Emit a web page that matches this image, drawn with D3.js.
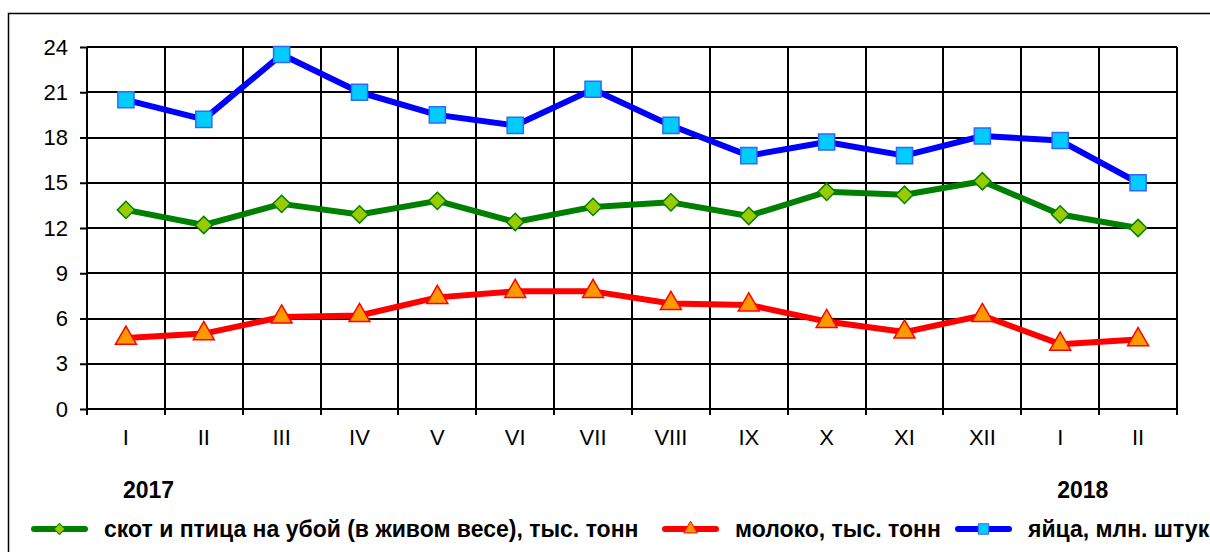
<!DOCTYPE html>
<html lang="ru">
<head>
<meta charset="utf-8">
<title>Производство продукции животноводства</title>
<script src="https://cdn.jsdelivr.net/npm/d3@7"></script>
<style>
  body { margin: 0; background: #fff; }
  text { font-family: "Liberation Sans", Arial, sans-serif; fill: #000; }
  .grid line { stroke: #000; stroke-width: 2px; }
  .axis path { display: none; }
  .axis line { stroke: #000; stroke-width: 2px; }
  .axis text { font-size: 22px; }
  .legend text, .year { font-size: 23px; font-weight: bold; }
</style>
</head>
<body>
<script>
var w = 1210, h = 552;

// months, two years
var months = ["I","II","III","IV","V","VI","VII","VIII","IX","X","XI","XII","I","II"];
var yTicks = [0, 3, 6, 9, 12, 15, 18, 21, 24];

// series values
var cattle = [13.2, 12.2, 13.6, 12.9, 13.8, 12.4, 13.4, 13.7, 12.8, 14.4, 14.2, 15.1, 12.9, 12.0];
var milk   = [4.7, 5.0, 6.1, 6.2, 7.4, 7.8, 7.8, 7.0, 6.9, 5.8, 5.1, 6.2, 4.3, 4.6];
var eggs   = [20.5, 19.2, 23.5, 21.0, 19.5, 18.8, 21.2, 18.8, 16.8, 17.7, 16.8, 18.1, 17.8, 15.0];

var seriesNames = ["скот и птица на убой (в живом весе), тыс. тонн", "молоко, тыс. тонн", "яйца, млн. штук"];
var years = [{label: "2017", idx: 0}, {label: "2018", idx: 12}];

var series = [
  {name: seriesNames[0], values: cattle, line: "#008000", fill: "#99CC00", stroke: "#008000", symbol: d3.symbolSquare, rot: 45, size: 150, lsize: 60},
  {name: seriesNames[1], values: milk, line: "#FF0000", fill: "#FF9900", stroke: "#FF0000", symbol: d3.symbolTriangle, rot: 0, size: 190, lsize: 80},
  {name: seriesNames[2], values: eggs, line: "#0000FF", fill: "#00CCFF", stroke: "#3366FF", symbol: d3.symbolSquare, rot: 0, size: 260, lsize: 110}
];

var svg = d3.select("body").append("svg").attr("width", w).attr("height", h);

// outer chart border
svg.append("rect").attr("x", 8.5).attr("y", 13.5).attr("width", w + 10).attr("height", h + 10)
  .attr("fill", "none").attr("stroke", "#000").attr("stroke-width", 1.5);

var plotLeft = 87, plotRight = 1177, plotTop = 47, plotBottom = 409;

var x = d3.scaleBand().domain(d3.range(months.length)).range([plotLeft, plotRight]);
var y = d3.scaleLinear().domain([0, 24]).range([plotBottom, plotTop]);
var cx = function (i) { return x(i) + x.bandwidth() / 2; };

// horizontal grid
svg.append("g").attr("class", "grid")
  .selectAll("line").data(yTicks).enter().append("line")
  .attr("x1", plotLeft).attr("x2", plotRight)
  .attr("y1", function (d) { return Math.round(y(d)); })
  .attr("y2", function (d) { return Math.round(y(d)); });

// vertical grid at band edges (extending below as ticks)
var edges = d3.range(months.length + 1).map(function (i) { return plotLeft + i * x.step(); });
svg.append("g").attr("class", "grid")
  .selectAll("line").data(edges).enter().append("line")
  .attr("x1", function (d) { return Math.round(d); }).attr("x2", function (d) { return Math.round(d); })
  .attr("y1", plotTop).attr("y2", plotBottom + 6);

// y axis
svg.append("g").attr("class", "axis")
  .attr("transform", "translate(" + plotLeft + ",0)")
  .call(d3.axisLeft(y).tickValues(yTicks).tickSize(7).tickPadding(12));

// x axis labels
svg.append("g").attr("class", "axis")
  .attr("transform", "translate(0," + plotBottom + ")")
  .call(d3.axisBottom(x).tickFormat(function (i) { return months[i]; }).tickSize(0).tickPadding(20));

// years
svg.selectAll("text.year").data(years).enter().append("text")
  .attr("class", "year")
  .attr("x", function (d) { return cx(d.idx) - 3; })
  .attr("y", 498)
  .text(function (d) { return d.label; });

// lines and markers
var line = d3.line().x(function (d, i) { return cx(i); }).y(function (d) { return y(d); });

series.forEach(function (s) {
  svg.append("path").datum(s.values)
    .attr("d", line)
    .attr("fill", "none").attr("stroke", s.line).attr("stroke-width", 6)
    .attr("stroke-linejoin", "round");
});

series.forEach(function (s) {
  svg.append("g").selectAll("path").data(s.values).enter().append("path")
    .attr("transform", function (d, i) { return "translate(" + cx(i) + "," + y(d) + ") rotate(" + s.rot + ")"; })
    .attr("d", d3.symbol().type(s.symbol).size(s.size))
    .attr("fill", s.fill).attr("stroke", s.stroke).attr("stroke-width", 1.5);
});

// legend
var legendX = [31, 662, 955];
var lg = svg.append("g").attr("class", "legend");
series.forEach(function (s, k) {
  var g = lg.append("g").attr("transform", "translate(" + legendX[k] + ",529)");
  g.append("line").attr("x1", 3).attr("x2", 54).attr("y1", 0).attr("y2", 0)
    .attr("stroke", s.line).attr("stroke-width", 6).attr("stroke-linecap", "round");
  g.append("path").attr("transform", "translate(28.5,0) rotate(" + s.rot + ")")
    .attr("d", d3.symbol().type(s.symbol).size(s.lsize))
    .attr("fill", s.fill).attr("stroke", s.stroke).attr("stroke-width", 1);
  g.append("text").attr("x", 73).attr("y", 8).text(s.name);
});
</script>
</body>
</html>
